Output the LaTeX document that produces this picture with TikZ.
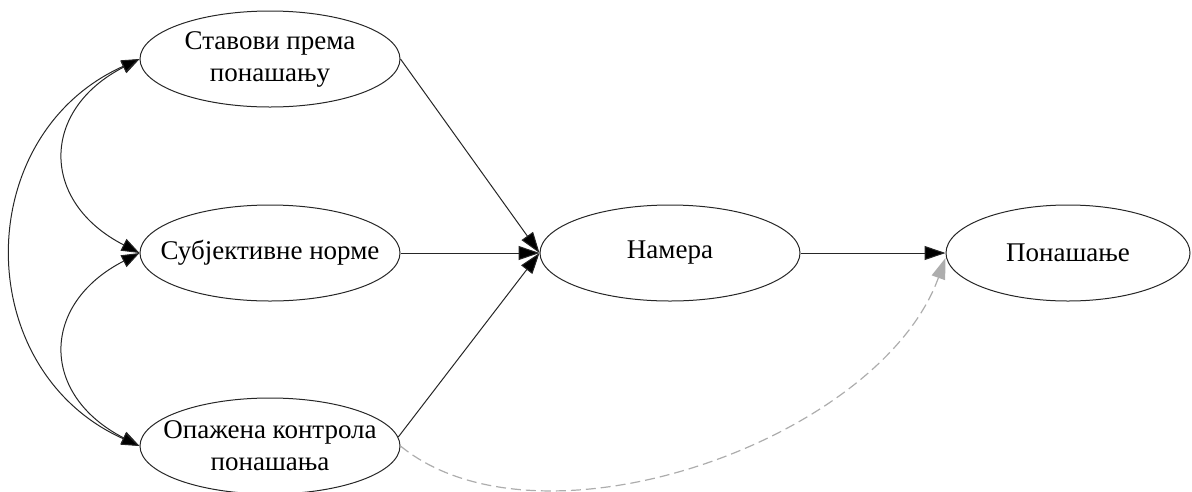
\documentclass[tikz,border=0pt]{standalone}
\usepackage{fontspec}
\setmainfont{Liberation Serif}
\usetikzlibrary{arrows.meta,shapes.geometric}
\begin{document}
\begin{tikzpicture}[x=1pt,y=-1pt,
  concept/.style={draw=black!85,line width=1pt,ellipse,inner xsep=-30pt,inner ysep=0pt,
    minimum width=260pt,minimum height=96pt,align=center,
    font=\fontsize{27}{32}\selectfont},
  link/.style={draw=black!85,line width=1pt,
    -{Triangle[length=21pt,width=14pt,fill=black]}},
  mutual/.style={draw=black!85,line width=1pt,
    {Triangle[length=18pt,width=13pt,fill=black]}-{Triangle[length=18pt,width=13pt,fill=black]}},
  weak/.style={draw=black!32,line width=1.2pt,dash pattern=on 10pt off 5pt,
    -{Triangle[length=21pt,width=14pt,fill=black!32]}}]
\useasboundingbox (0,0) rectangle (1192,491);

% concepts
\node[concept] (att) at (270,59) {Ставови према\\понашању};
\node[concept] (norm) at (270,253) {Субјективне норме};
\node[concept] (ctrl) at (270,446) {Опажена контрола\\понашања};
\node[concept] (int) at (670,253) {Намера};
\node[concept,minimum width=244pt] (beh) at (1068,253) {Понашање};

% correlations between the predictors
\draw[mutual] (att.west) .. controls (40,110) and (40,202) .. (norm.west);
\draw[mutual] (norm.west) .. controls (40,304) and (40,395) .. (ctrl.west);
\draw[mutual] (att.west) .. controls (-30,135) and (-30,370) .. (ctrl.west);

% paths to intention and behaviour
\draw[link] (att.east) -- (int.west);
\draw[link] (norm.east) -- (int.west);
\draw[link] (ctrl.4) -- (int.west);
\draw[link] (int.east) -- (beh.west);
\draw[weak] (ctrl.east) .. controls (540,560) and (880,440) .. ([yshift=-5pt]beh.west);
\end{tikzpicture}
\end{document}
